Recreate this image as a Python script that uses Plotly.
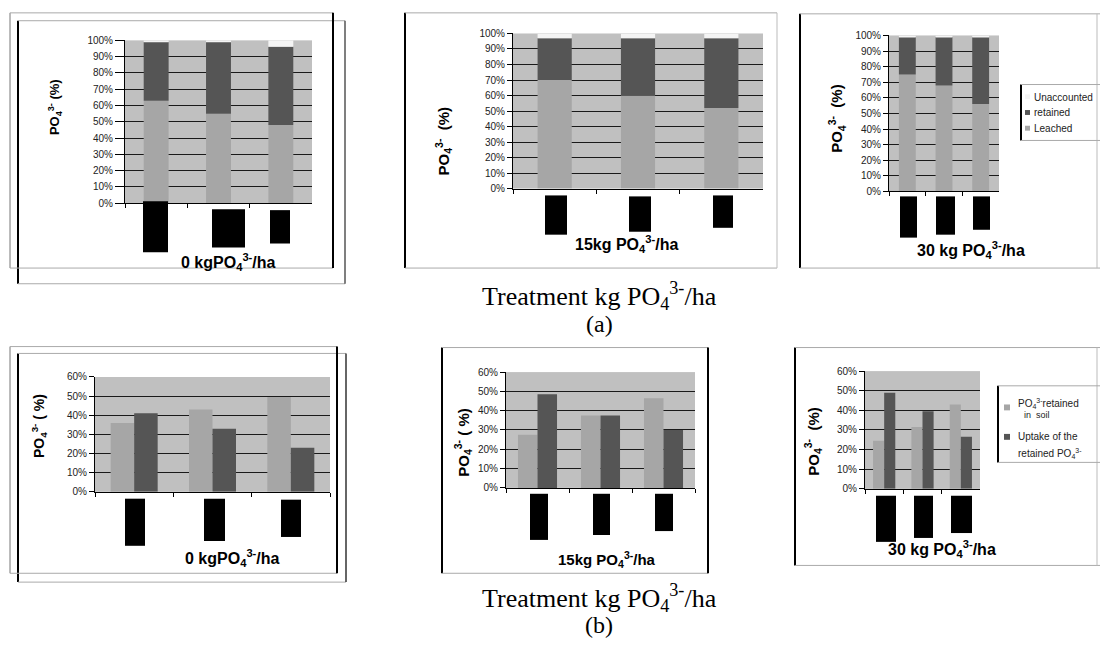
import plotly.graph_objects as go

W, H = 1100, 647

# ---------------- data ----------------
CATS = ["T1", "T2", "T3"]

# (a) fate of applied PO4 (% of applied), stacked
A0_LEACHED = [63, 55, 48]
A0_RETAINED = [36, 44, 48]
A0_UNACC = [1, 1, 4]

A15_LEACHED = [70, 60, 52]
A15_RETAINED = [27, 37, 45]
A15_UNACC = [3, 3, 3]

A30_LEACHED = [75, 68, 56]
A30_RETAINED = [24, 31, 43]
A30_UNACC = [1, 1, 1]

# (b) retained PO4 in soil vs uptake of retained PO4 (%)
B0_SOIL = [36, 43, 49.5]
B0_UPTAKE = [41, 33, 23]

B15_SOIL = [27.5, 37.5, 46.5]
B15_UPTAKE = [48.5, 37.5, 30]

B30_SOIL = [24.5, 31.5, 43]
B30_UPTAKE = [49, 39.5, 26.5]

A_TICKS = [0, 10, 20, 30, 40, 50, 60, 70, 80, 90, 100]
B_TICKS = [0, 10, 20, 30, 40, 50, 60]

LEGEND_A = ["Unaccounted", "retained", "Leached"]

# ---------------- style ----------------
C_LIGHT = "#a6a6a6"
C_DARK = "#555555"
C_UNACC = "#f4f4f4"
C_BG = "#c0c0c0"
FONT = "Liberation Sans, Arial, sans-serif"
SERIF = "Liberation Serif, Times New Roman, serif"


def X(px):
    return px / W


def Y(py):
    return 1 - py / H


fig = go.Figure()

# panel geometry in pixels: left, right, top, bottom
panels = [
    dict(L=125, R=312, T=35, B=201, ymax=100, ticks=A_TICKS, ticklen=9),
    dict(L=513, R=763, T=28, B=186, ymax=100, ticks=A_TICKS, ticklen=5),
    dict(L=889, R=999, T=30, B=189, ymax=100, ticks=A_TICKS, ticklen=5),
    dict(L=95, R=330, T=378, B=495, ymax=60, ticks=B_TICKS, ticklen=5),
    dict(L=506, R=695, T=373, B=491, ymax=60, ticks=B_TICKS, ticklen=5),
    dict(L=865, R=980, T=372, B=492, ymax=60, ticks=B_TICKS, ticklen=5),
]

layout_axes = {}
for i, p in enumerate(panels):
    n = "" if i == 0 else str(i + 1)
    layout_axes["xaxis" + n] = dict(
        domain=[X(p["L"]), X(p["R"])], anchor="y" + n, type="category",
        categoryorder="array", categoryarray=CATS, range=[-0.5, 2.5],
        showline=True, linecolor="black", linewidth=1,
        ticks="outside", ticklen=4, tickcolor="black", tickson="boundaries",
        showticklabels=False, showgrid=False, zeroline=False, fixedrange=True,
    )
    layout_axes["yaxis" + n] = dict(
        domain=[Y(p["B"]), Y(p["T"])], anchor="x" + n,
        range=[0, p["ymax"]], tickmode="array", tickvals=p["ticks"],
        ticktext=[f"{t}%" for t in p["ticks"]],
        showgrid=True, gridcolor="#1a1a1a", gridwidth=1,
        showline=True, linecolor="black", linewidth=1,
        ticks="outside", ticklen=p["ticklen"], tickcolor="black",
        tickfont=dict(family=FONT, size=10, color="#222"),
        zeroline=False, fixedrange=True,
    )


def add_stack(ax_i, leached, retained, unacc, w):
    n = "" if ax_i == 0 else str(ax_i + 1)
    base_r = leached
    base_u = [a + b for a, b in zip(leached, retained)]
    for vals, base, col, name in [
        (leached, None, C_LIGHT, "Leached"),
        (retained, base_r, C_DARK, "retained"),
        (unacc, base_u, C_UNACC, "Unaccounted"),
    ]:
        fig.add_trace(go.Bar(
            x=CATS, y=vals, base=base, width=w, offset=-w / 2,
            marker=dict(color=col, line=dict(width=0)), name=name,
            xaxis="x" + n, yaxis="y" + n, showlegend=False,
        ))


def add_group(ax_i, soil, uptake, w):
    n = str(ax_i + 1)
    fig.add_trace(go.Bar(
        x=CATS, y=soil, width=w, offset=-w,
        marker=dict(color=C_LIGHT, line=dict(width=0)),
        name="PO4 retained in soil", xaxis="x" + n, yaxis="y" + n, showlegend=False,
    ))
    fig.add_trace(go.Bar(
        x=CATS, y=uptake, width=w, offset=0,
        marker=dict(color=C_DARK, line=dict(width=0)),
        name="Uptake of the retained PO4", xaxis="x" + n, yaxis="y" + n, showlegend=False,
    ))


add_stack(0, A0_LEACHED, A0_RETAINED, A0_UNACC, 0.40)
add_stack(1, A15_LEACHED, A15_RETAINED, A15_UNACC, 0.41)
add_stack(2, A30_LEACHED, A30_RETAINED, A30_UNACC, 0.46)
add_group(3, B0_SOIL, B0_UPTAKE, 0.30)
add_group(4, B15_SOIL, B15_UPTAKE, 0.31)
add_group(5, B30_SOIL, B30_UPTAKE, 0.29)

shapes = []
annotations = []


def line(x0, y0, x1, y1, color="#999", width=1):
    shapes.append(dict(type="line", xref="paper", yref="paper",
                       x0=X(x0), y0=Y(y0), x1=X(x1), y1=Y(y1),
                       line=dict(color=color, width=width)))


def rect(x0, y0, x1, y1, color="black"):
    shapes.append(dict(type="rect", xref="paper", yref="paper",
                       x0=X(x0), y0=Y(y0), x1=X(x1), y1=Y(y1),
                       fillcolor=color, line=dict(width=0)))


def ann(text, px, py, size, family=FONT, xanchor="center", angle=0, color="black"):
    annotations.append(dict(text=text, xref="paper", yref="paper",
                            x=X(px), y=Y(py), xanchor=xanchor, yanchor="middle",
                            showarrow=False, textangle=angle,
                            font=dict(family=family, size=size, color=color)))


# ---- frames ----
# a1
line(10, 7, 10, 267, "#777", 1)
line(18, 15, 18, 283, "black", 2)
line(10, 7, 333, 7, "#aaa", 1)
line(18, 15, 345, 15, "#aaa", 1)
line(10, 267, 333, 267, "#aaa", 1)
line(18, 283, 345, 283, "#aaa", 1)
line(333, 7, 333, 267, "black", 2)
line(345, 15, 345, 283, "#555", 1.5)
# a2
line(405, 7, 405, 267, "black", 2)
line(405, 7, 777, 7, "#aaa", 1)
line(405, 267, 777, 267, "#aaa", 1)
line(777, 7, 777, 267, "#bbb", 1)
# a3
line(800, 8, 800, 267, "black", 2)
line(800, 8, 1100, 8, "#aaa", 1)
line(800, 267, 1100, 267, "#aaa", 1)
line(1097, 8, 1097, 267, "#bbb", 1)
# b1
line(10, 347, 10, 578, "#777", 1)
line(18, 354, 18, 587, "black", 2)
line(10, 347, 337, 347, "#aaa", 1)
line(18, 354, 346, 354, "#aaa", 1)
line(10, 578, 337, 578, "#aaa", 1)
line(18, 587, 346, 587, "#aaa", 1)
line(337, 347, 337, 578, "black", 2)
line(346, 354, 346, 587, "#333", 1.5)
# b2
line(442, 348, 442, 578, "black", 2)
line(442, 348, 708, 348, "#aaa", 1)
line(442, 578, 708, 578, "#aaa", 1)
line(708, 348, 708, 578, "black", 2)
# b3
line(795, 348, 795, 570, "black", 2)
line(795, 348, 1100, 348, "#aaa", 1)
line(795, 570, 1100, 570, "#aaa", 1)
line(1097, 348, 1097, 570, "#bbb", 1)

# ---- black blocks over the category labels ----
for b in [(143, 199, 168, 251), (212, 207, 245, 246), (270, 208, 290, 242),
          (545, 193, 567, 233), (629, 194, 651, 230), (713, 193, 733, 226),
          (900, 194, 917, 236), (936, 194, 955, 233), (973, 194, 990, 228),
          (125, 502, 145, 550), (204, 502, 225, 545), (281, 503, 301, 541),
          (530, 497, 548, 544), (593, 497, 610, 539), (655, 497, 673, 535),
          (876, 499, 896, 546), (914, 499, 933, 542), (951, 499, 972, 537)]:
    rect(*b)

# ---- axis titles ----
PO4 = "PO<sub>4</sub><sup>3-</sup>"
ann(f"<b>{PO4} (%)</b>", 55, 103, 13, angle=-90)
ann(f"<b>{PO4}  (%)</b>", 443, 138, 15, angle=-90)
ann(f"<b>{PO4}  (%)</b>", 837, 115, 15, angle=-90)
ann(f"<b>{PO4} ( %)</b>", 39, 428, 14, angle=-90)
ann(f"<b>{PO4} ( %)</b>", 463, 445, 15, angle=-90)
ann(f"<b>{PO4}  (%)</b>", 813, 444, 15, angle=-90)

# ---- panel labels ----
ann(f"<b>0 kg{PO4}/ha</b>", 228, 261, 16)
ann(f"<b>15kg {PO4}/ha</b>", 626, 242, 16)
ann(f"<b>30 kg {PO4}/ha</b>", 971, 249, 16)
ann(f"<b>0 kg{PO4}/ha</b>", 232, 562, 16)
ann(f"<b>15kg {PO4}/ha</b>", 607, 564, 15)
ann(f"<b>30 kg {PO4}/ha</b>", 942, 553, 16)

# ---- figure captions ----
ann(f"Treatment kg PO<sub>4</sub><sup>3-</sup>/ha", 599, 295, 26, family=SERIF)
ann("(a)", 599, 324, 24, family=SERIF)
ann(f"Treatment kg PO<sub>4</sub><sup>3-</sup>/ha", 599, 603, 26, family=SERIF)
ann("(b)", 599, 631, 24, family=SERIF)

# ---- legend (a) ----
line(1021, 80, 1021, 137, "black", 2)
line(1021, 80, 1100, 80, "#aaa", 1)
line(1021, 137, 1100, 137, "#aaa", 1)
for name, col, py in zip(LEGEND_A, [C_UNACC, C_DARK, C_LIGHT], [93, 109, 125]):
    rect(1025, py - 3, 1030, py + 2, col)
    ann(name, 1032, py, 10, xanchor="left", color="#222")

# ---- legend (b) ----
line(998, 387, 998, 465, "black", 2)
line(998, 387, 1100, 387, "#aaa", 1)
line(998, 465, 1100, 465, "#aaa", 1)
rect(1004, 406, 1010, 412, C_LIGHT)
ann(f"PO<sub>4</sub><sup>3-</sup>retained", 1016, 405, 10, xanchor="left", color="#222")
ann("in  soil", 1022, 417, 9, xanchor="left", color="#222")
rect(1004, 436, 1010, 442, C_DARK)
ann("Uptake of the", 1016, 439, 10, xanchor="left", color="#222")
ann(f"retained PO<sub>4</sub><sup>3-</sup>", 1016, 456, 10, xanchor="left", color="#222")

fig.update_layout(
    width=W, height=H, margin=dict(l=0, r=0, t=0, b=0),
    paper_bgcolor="white", plot_bgcolor=C_BG,
    barmode="overlay", showlegend=False,
    shapes=shapes, annotations=annotations,
    font=dict(family=FONT, size=10, color="#222"),
    **layout_axes,
)

fig.write_html("out.html", config={"displayModeBar": False},
               post_script="document.body.style.margin='0';")
